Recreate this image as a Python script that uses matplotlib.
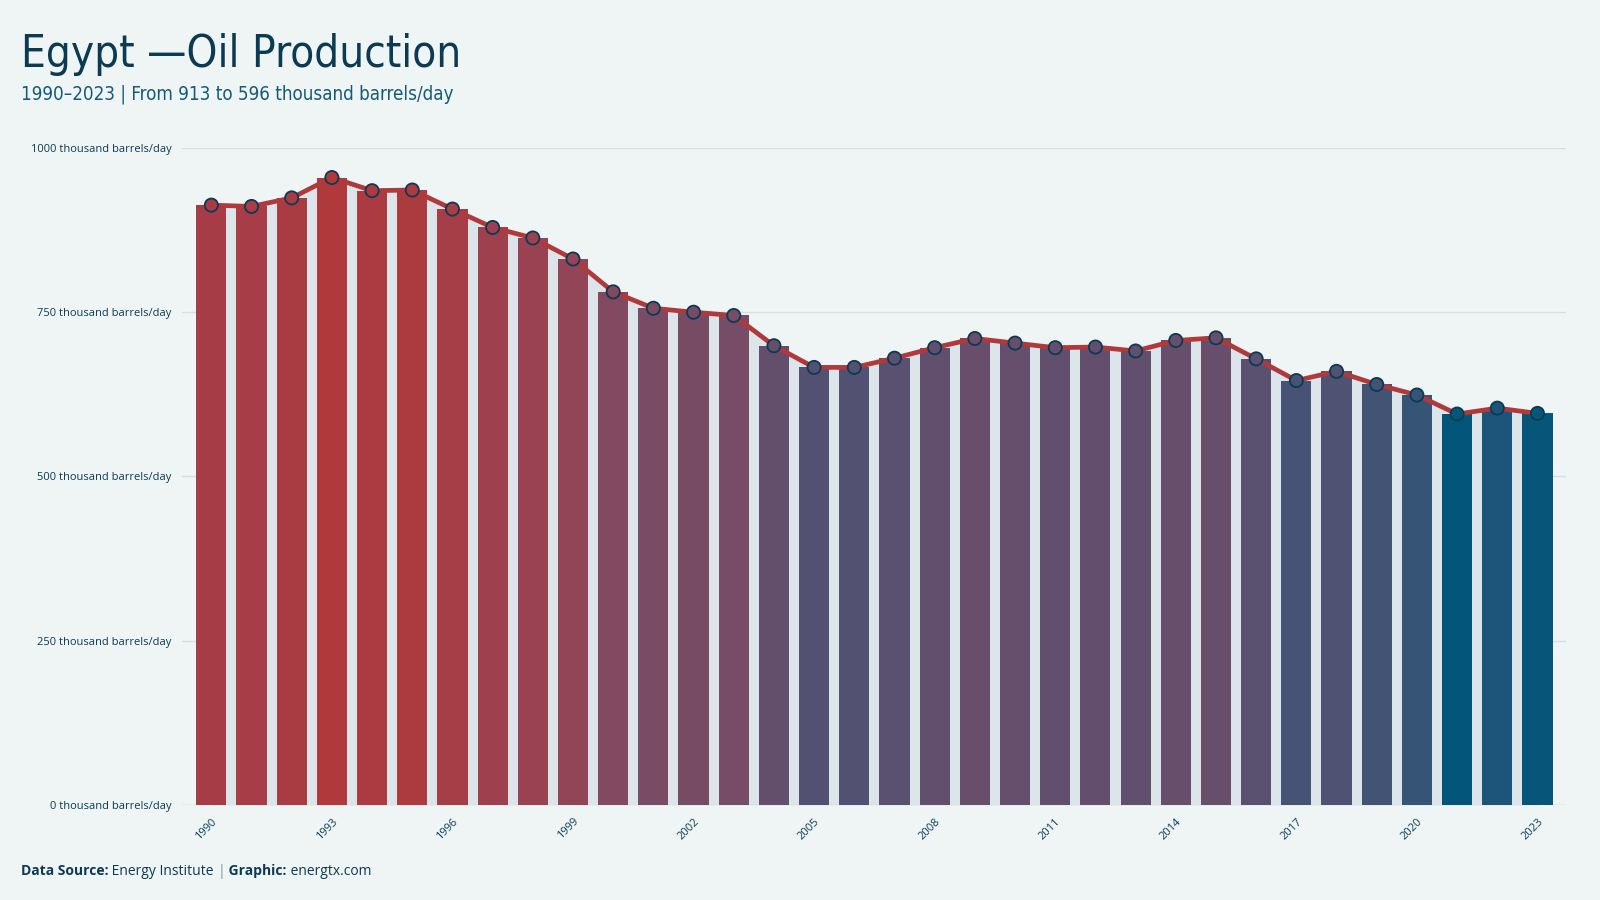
import matplotlib.pyplot as plt
import numpy as np
from matplotlib import font_manager as fm
from matplotlib.colors import to_rgb

# Data: Egypt oil production, thousand barrels/day
years = list(range(1990, 2024))
production = [913, 911, 924, 955, 935, 936, 907, 879, 863, 831,
              781, 756, 750, 745, 699, 666, 666, 680, 696, 710,
              703, 696, 697, 691, 707, 711, 679, 646, 660, 640,
              624, 595, 604, 596]
y_ticks = [0, 250, 500, 750, 1000]
x_ticks = years[::3]

# Colours
bg = "#eff5f5"
red = "#b0393b"
blue = "#03567a"
navy = "#0c3a53"
fill_col = "#dbe5ea"
grid_col = "#d5dfe2"

plt.rcParams["font.family"] = ["Open Sans", "DejaVu Sans"]

# look for a condensed face for the title (the original uses a narrow font)
title_font = None
for fam in ["Noto Sans", "Open Sans", "DejaVu Sans", "Roboto", "Liberation Sans Narrow"]:
    for f in fm.fontManager.ttflist:
        if (f.name == fam and f.style == "normal" and f.weight in (400, "normal")
                and ("condensed" in str(f.stretch) or "Narrow" in f.name)
                and "semi" not in str(f.stretch) and "extra" not in str(f.stretch)):
            title_font = fm.FontProperties(fname=f.fname)
            break
    if title_font is not None:
        break
if title_font is None:
    title_font = fm.FontProperties(family="DejaVu Sans")


def lin(c):
    c = np.array(c)
    return np.where(c <= 0.04045, c / 12.92, ((c + 0.055) / 1.055) ** 2.4)


def srgb(c):
    c = np.clip(c, 0, 1)
    return np.where(c <= 0.0031308, c * 12.92, 1.055 * c ** (1 / 2.4) - 0.055)


fig = plt.figure(figsize=(16, 9), dpi=100, facecolor=bg)
ax = fig.add_axes([0.114, 0.1056, 0.865, 0.73])
ax.set_facecolor(bg)

# bar colour goes from blue (lowest) to red (highest), mixed in linear light
vals = np.array(production, dtype=float)
t = (vals - vals.min()) / (vals.max() - vals.min())
r1, r2 = lin(to_rgb(red)), lin(to_rgb(blue))
bar_colors = [tuple(srgb(r2 + (r1 - r2) * ti)) for ti in t]

# light area under the line, then bars, then the line itself
ax.fill_between(years, production, 0, color=fill_col, zorder=1, lw=0)
ax.bar(years, production, width=0.75, color=bar_colors, zorder=2)
ax.plot(years, production, color=red, lw=3.4, zorder=3)
ax.scatter(years, production, s=90, c=bar_colors, edgecolors=navy,
           linewidths=1.3, zorder=4)

ax.set_xlim(1989.28, 2023.72)
ax.set_ylim(0, 1000)
ax.set_yticks(y_ticks)
ax.set_yticklabels([f"{v} thousand barrels/day" for v in y_ticks])
ax.set_xticks(x_ticks)
ax.set_xticklabels([str(y) for y in x_ticks], rotation=45, ha="right",
                   va="top", rotation_mode="anchor")
ax.tick_params(axis="both", length=0, labelsize=8, colors=navy)
ax.tick_params(axis="y", pad=8)
ax.tick_params(axis="x", pad=8)
ax.grid(axis="y", color=grid_col, lw=1, zorder=0)
ax.set_axisbelow(True)
for s in ax.spines.values():
    s.set_visible(False)
ax.axhline(0, color=grid_col, lw=1, zorder=1.5)

# Title and subtitle
fig.text(0.013, 0.926, "Egypt \u2014Oil Production", fontsize=31.5,
         color=navy, fontproperties=title_font, va="baseline")
fig.text(0.013, 0.89, "1990\u20132023 | From 913 to 596 thousand barrels/day",
         fontsize=13.5, color="#165a78", fontproperties=title_font, va="baseline")

# Footer with bold parts
fig.canvas.draw()
renderer = fig.canvas.get_renderer()
parts = [("Data Source:", "bold", navy), (" Energy Institute ", "normal", navy),
         ("|", "normal", "#7b9aaa"), (" Graphic:", "bold", navy),
         (" energtx.com", "normal", navy)]
x = 0.013
for txt, weight, col in parts:
    tx = fig.text(x, 0.028, txt, fontsize=10, fontweight=weight, color=col,
                  va="baseline")
    bb = tx.get_window_extent(renderer)
    x += bb.width / fig.bbox.width

fig.savefig("out.png", dpi=100, facecolor=bg)
